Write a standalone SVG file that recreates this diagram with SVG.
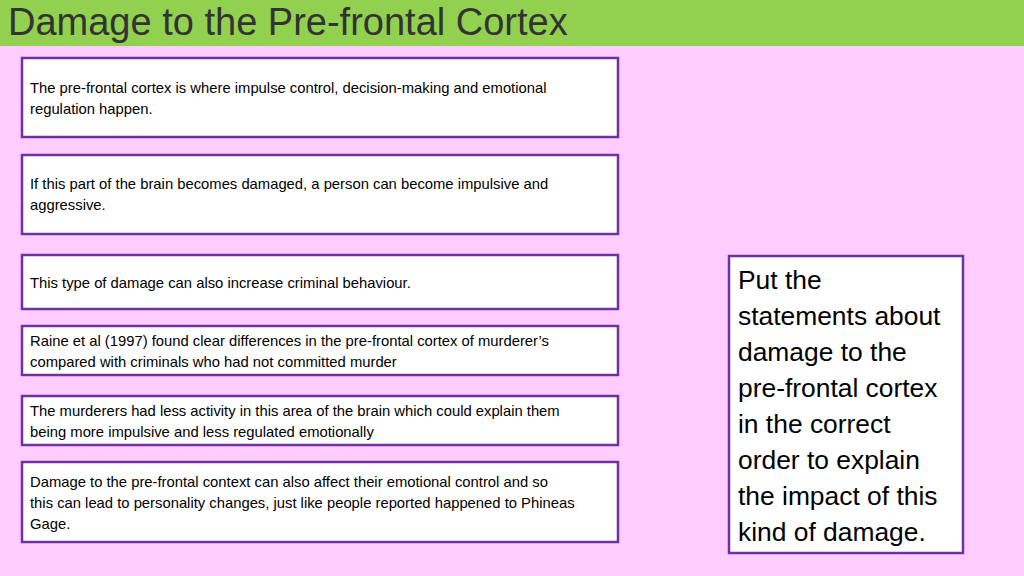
<svg xmlns="http://www.w3.org/2000/svg" width="1024" height="576" viewBox="0 0 1024 576">
<style>
.box{fill:#fff;stroke:#7030A0;stroke-width:2.5}
.t{font-family:"Liberation Sans",Arial,sans-serif;font-size:14.8px;fill:#000}
.r{font-family:"Liberation Sans",Arial,sans-serif;font-size:26.4px;fill:#000}
</style>
<rect width="1024" height="576" fill="#FFCCFF"/>
<rect width="1024" height="46" fill="#92D050"/>
<text x="8" y="35" font-family="Liberation Sans,Arial,sans-serif" font-size="38" fill="#333">Damage to the Pre-frontal Cortex</text>
<g id="n1"><rect class="box" x="22" y="58" width="596" height="79"/><text class="t" x="30" y="93">The pre-frontal cortex is where impulse control, decision-making and emotional</text><text class="t" x="30" y="114">regulation happen.</text></g>
<g id="n2"><rect class="box" x="22" y="155" width="596" height="79"/><text class="t" x="30" y="189">If this part of the brain becomes damaged, a person can become impulsive and</text><text class="t" x="30" y="210">aggressive.</text></g>
<g id="n3"><rect class="box" x="22" y="255" width="596" height="54"/><text class="t" x="30" y="288">This type of damage can also increase criminal behaviour.</text></g>
<g id="n4"><rect class="box" x="22" y="326" width="596" height="49"/><text class="t" x="30" y="346">Raine et al (1997) found clear differences in the pre-frontal cortex of murderer’s</text><text class="t" x="30" y="367">compared with criminals who had not committed murder</text></g>
<g id="n5"><rect class="box" x="22" y="396" width="596" height="49"/><text class="t" x="30" y="416">The murderers had less activity in this area of the brain which could explain them</text><text class="t" x="30" y="437">being more impulsive and less regulated emotionally</text></g>
<g id="n6"><rect class="box" x="22" y="462" width="596" height="80"/><text class="t" x="30" y="487">Damage to the pre-frontal context can also affect their emotional control and so</text><text class="t" x="30" y="508">this can lead to personality changes, just like people reported happened to Phineas</text><text class="t" x="30" y="529">Gage.</text></g>
<g id="instr"><rect class="box" x="729" y="256" width="234" height="297"/>
<text class="r" x="738" y="289">Put the</text><text class="r" x="738" y="325">statements about</text><text class="r" x="738" y="361">damage to the</text><text class="r" x="738" y="397">pre-frontal cortex</text><text class="r" x="738" y="433">in the correct</text><text class="r" x="738" y="469">order to explain</text><text class="r" x="738" y="505">the impact of this</text><text class="r" x="738" y="541">kind of damage.</text></g>
<g id="connectors"/>
</svg>
